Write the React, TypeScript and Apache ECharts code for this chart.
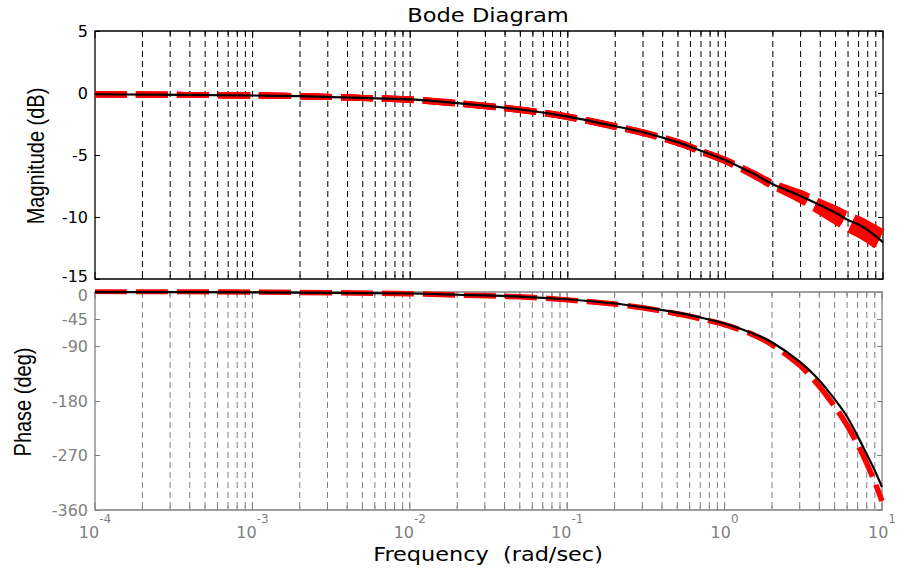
import React, { useEffect, useRef } from "react";
import * as echarts from "echarts";

// ---- axis ranges / tick values ----
const FREQ_MIN = 1e-4;
const FREQ_MAX = 10;
const decades = [1e-4, 1e-3, 1e-2, 1e-1, 1];
const minorMultipliers = [1, 2, 3, 4, 5, 6, 7, 8, 9];
const magTicks = [5, 0, -5, -10, -15];
const phaseTicks = [0, -45, -90, -180, -270, -360];

// ---- magnitude (dB) ----
const freqMag = [1e-4, 1e-3, 2e-3, 5e-3, 1e-2, 2e-2, 5e-2, 0.1, 0.2, 0.3, 0.5, 0.7, 1, 1.5, 2, 3, 4, 5, 6, 7, 8, 9, 10];
const magBlack = [-0.1, -0.2, -0.26, -0.4, -0.52, -0.82, -1.33, -1.9, -2.68, -3.17, -3.98, -4.66, -5.42, -6.5, -7.36, -8.3, -9.06, -9.66, -10.25, -10.6, -11.06, -11.55, -12.04];
// red family of responses (dashed band)
const magRedHigh = [-0.1, -0.2, -0.26, -0.4, -0.5, -0.8, -1.32, -1.89, -2.66, -3.16, -3.95, -4.65, -5.39, -6.45, -7.26, -8.05, -8.78, -9.33, -9.82, -10.17, -10.53, -10.9, -11.22];
const magRedMidHigh = [-0.1, -0.2, -0.26, -0.4, -0.52, -0.82, -1.34, -1.9, -2.68, -3.18, -3.98, -4.68, -5.42, -6.5, -7.33, -8.2, -8.99, -9.59, -10.11, -10.49, -10.87, -11.25, -11.59];
const magRedMid = [-0.1, -0.2, -0.26, -0.4, -0.53, -0.83, -1.35, -1.92, -2.7, -3.2, -4.0, -4.7, -5.45, -6.55, -7.4, -8.35, -9.2, -9.85, -10.4, -10.8, -11.2, -11.6, -11.95];
const magRedMidLow = [-0.1, -0.2, -0.26, -0.4, -0.55, -0.85, -1.37, -1.94, -2.72, -3.22, -4.02, -4.72, -5.48, -6.6, -7.47, -8.5, -9.41, -10.11, -10.69, -11.12, -11.54, -11.95, -12.32];
const magRedLow = [-0.1, -0.2, -0.26, -0.4, -0.56, -0.86, -1.38, -1.95, -2.74, -3.24, -4.05, -4.75, -5.51, -6.65, -7.54, -8.65, -9.62, -10.37, -10.98, -11.43, -11.87, -12.3, -12.68];

// ---- phase (deg) ----
const freqPhase = [1e-4, 1e-3, 1e-2, 2e-2, 5e-2, 0.1, 0.2, 0.3, 0.5, 0.7, 1, 1.5, 2, 3, 4, 5, 6, 7, 8, 9, 10];
const phaseBlack = [-0.1, -0.6, -2.5, -4.5, -7.5, -12, -19, -25, -34, -42, -52, -68, -83, -115, -146, -177, -206, -238, -268, -295, -322];
const phaseRed = [1.2, 0, -2.8, -5, -8, -13, -20, -26, -36, -44, -54, -70, -87, -121, -156, -189, -220, -252, -283, -314, -345];

const GREY = "#808080";
const FONT = "DejaVu Sans";

const pairs = (xs: number[], ys: number[]) => xs.map((x, i) => [x, ys[i]]);

const tickData: number[][] = [];
decades.forEach((d) => minorMultipliers.forEach((m) => tickData.push([m * d, 0, m === 1 ? 1 : 0])));
tickData.push([FREQ_MAX, 0, 1]);

function gridRenderer(tickColor: string, dashColor: string) {
  return (params: any, api: any) => {
    const f = api.value(0);
    const major = api.value(2) === 1;
    const cs = params.coordSys;
    const x = api.coord([f, 0])[0];
    const children: any[] = [];
    if (f > FREQ_MIN * 1.001 && f < FREQ_MAX * 0.999) {
      children.push({
        type: "line",
        shape: { x1: x, y1: cs.y, x2: x, y2: cs.y + cs.height },
        style: { stroke: dashColor, lineWidth: 1, lineDash: [6, 4] },
      });
    }
    const len = major ? 7 : 4;
    children.push({
      type: "line",
      shape: { x1: x, y1: cs.y + cs.height, x2: x, y2: cs.y + cs.height - len },
      style: { stroke: tickColor, lineWidth: 1 },
    });
    children.push({
      type: "line",
      shape: { x1: x, y1: cs.y, x2: x, y2: cs.y + len },
      style: { stroke: tickColor, lineWidth: 1 },
    });
    return { type: "group", children };
  };
}

const redDash = [32, 9];

export default function App() {
  const ref = useRef<HTMLDivElement>(null);
  useEffect(() => {
    if (!ref.current) return;
    const chart = echarts.init(ref.current, undefined, { renderer: "svg" });
    // edgeMode: "up" lifts the label of edgeValue a little, "down" lowers it
    const yBase = (
      grid: number, min: number, max: number, interval: number, color: string, right: boolean,
      custom: number[], edgeValue: number, edgeMode: "up" | "down",
    ) => ({
      type: "value",
      gridIndex: grid,
      position: right ? "right" : "left",
      min,
      max,
      interval,
      axisLine: { show: false },
      splitLine: { show: false },
      axisTick: {
        show: true,
        inside: true,
        length: 5,
        lineStyle: { color, width: 1 },
        customValues: custom,
      },
      axisLabel: {
        show: !right,
        color,
        fontFamily: FONT,
        fontSize: 16,
        margin: 7,
        customValues: custom,
        formatter: (v: number) =>
          v === edgeValue
            ? edgeMode === "up"
              ? `{n|${v}}\n{s| }`
              : `{s| }\n{n|${v}}`
            : `{n|${v}}`,
        rich: {
          n: { fontFamily: FONT, fontSize: 16, lineHeight: 14, color },
          s: { fontSize: 4, lineHeight: 6, color },
        },
      },
    });
    const option: any = {
      animation: false,
      backgroundColor: "#ffffff",
      grid: [
        { left: 95, top: 31, width: 788, height: 248, show: true, borderColor: "#000", borderWidth: 1.3, backgroundColor: "transparent" },
        { left: 95, top: 292, width: 788, height: 218, show: true, borderColor: GREY, borderWidth: 1.3, backgroundColor: "transparent" },
      ],
      xAxis: [
        {
          type: "log", logBase: 10, gridIndex: 0, min: FREQ_MIN, max: FREQ_MAX,
          axisLine: { show: false }, axisTick: { show: false }, axisLabel: { show: false }, splitLine: { show: false },
        },
        {
          type: "log", logBase: 10, gridIndex: 1, min: FREQ_MIN, max: FREQ_MAX,
          axisLine: { show: false }, axisTick: { show: false }, splitLine: { show: false },
          axisLabel: {
            show: true,
            margin: 14,
            showMinLabel: true,
            showMaxLabel: true,
            formatter: (v: number) => `{b|10}{sup|${Math.round(Math.log10(v))}}`,
            rich: {
              b: { fontFamily: FONT, fontSize: 16, lineHeight: 16, color: GREY },
              sup: { fontFamily: FONT, fontSize: 12, lineHeight: 12, color: GREY, padding: [0, 0, 26, 0] },
            },
          },
        },
      ],
      yAxis: [
        yBase(0, -15, 5, 5, "#000", false, magTicks, -15, "up"),
        yBase(0, -15, 5, 5, "#000", true, magTicks, -15, "up"),
        yBase(1, -360, 0, 45, GREY, false, phaseTicks, 0, "down"),
        yBase(1, -360, 0, 45, GREY, true, phaseTicks, 0, "down"),
      ],
      graphic: [
        {
          type: "text", x: 488, y: 15, scaleX: 1.13,
          style: { text: "Bode Diagram", fontFamily: FONT, fontSize: 20, fill: "#000", textAlign: "center", textVerticalAlign: "middle" },
        },
        {
          type: "text", x: 488, y: 554, scaleX: 1.12,
          style: { text: "Frequency  (rad/sec)", fontFamily: FONT, fontSize: 20, fill: "#000", textAlign: "center", textVerticalAlign: "middle" },
        },
        {
          type: "text", x: 36, y: 156, rotation: Math.PI / 2, scaleY: 1.17,
          style: { text: "Magnitude (dB)", fontFamily: "Liberation Sans", fontSize: 20, fill: "#000", textAlign: "center", textVerticalAlign: "middle" },
        },
        {
          type: "text", x: 23, y: 402, rotation: Math.PI / 2, scaleY: 1.17,
          style: { text: "Phase (deg)", fontFamily: "Liberation Sans", fontSize: 20, fill: "#000", textAlign: "center", textVerticalAlign: "middle" },
        },
      ],
      series: [
        {
          type: "custom", xAxisIndex: 0, yAxisIndex: 0, silent: true, z: 1,
          renderItem: gridRenderer("#000", "#000"), data: tickData,
        },
        {
          type: "custom", xAxisIndex: 1, yAxisIndex: 2, silent: true, z: 1,
          renderItem: gridRenderer(GREY, GREY), data: tickData,
        },
        ...[magRedHigh, magRedLow, magRedMidHigh, magRedMidLow, magRedMid].map((vals) => ({
          type: "line", xAxisIndex: 0, yAxisIndex: 0, data: pairs(freqMag, vals), showSymbol: false, smooth: 0.3, z: 3,
          lineStyle: { color: "#ff0000", width: 6, type: redDash },
        })),
        {
          type: "line", xAxisIndex: 0, yAxisIndex: 0, data: pairs(freqMag, magBlack), showSymbol: false, smooth: 0.3, z: 4,
          lineStyle: { color: "#000", width: 2.2, type: "solid" },
        },
        {
          type: "line", xAxisIndex: 1, yAxisIndex: 2, data: pairs(freqPhase, phaseRed), showSymbol: false, smooth: 0.3, z: 3,
          lineStyle: { color: "#ff0000", width: 5.5, type: redDash },
        },
        {
          type: "line", xAxisIndex: 1, yAxisIndex: 2, data: pairs(freqPhase, phaseBlack), showSymbol: false, smooth: 0.3, z: 4,
          lineStyle: { color: "#000", width: 2.2, type: "solid" },
        },
      ],
    };
    chart.setOption(option);
    return () => chart.dispose();
  }, []);
  return (
    <div
      ref={ref}
      style={{ position: "absolute", left: 0, top: 0, width: 899, height: 573, background: "#fff" }}
    />
  );
}
